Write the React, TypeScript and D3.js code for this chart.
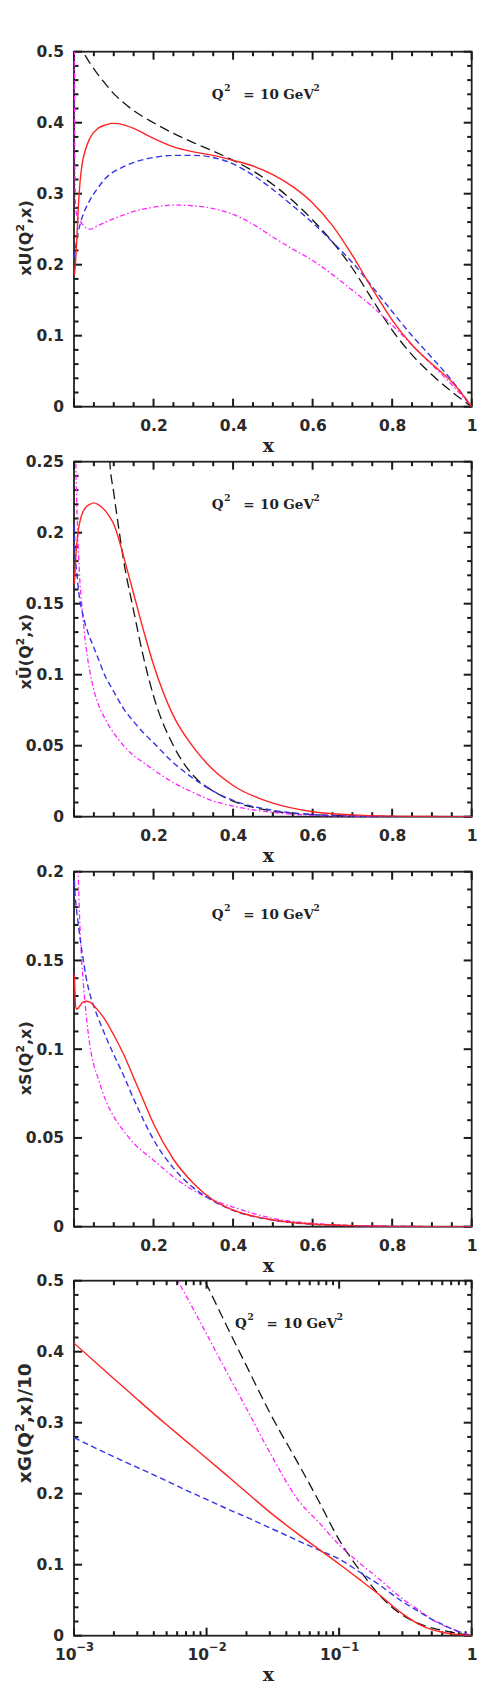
import { useEffect, useRef } from "react";
import * as d3 from "d3";

// ---- panel 1: xU(Q^2,x) ----
const xGridU = [0.001, 0.002, 0.004, 0.007, 0.01, 0.015, 0.02, 0.03, 0.04, 0.06, 0.08, 0.1, 0.125, 0.15, 0.2, 0.25, 0.3, 0.35, 0.4, 0.45, 0.5, 0.55, 0.6, 0.65, 0.7, 0.75, 0.8, 0.85, 0.9, 0.95, 1];
const uRed = [0.185, 0.19, 0.205, 0.235, 0.272, 0.315, 0.34, 0.364, 0.378, 0.392, 0.397, 0.399, 0.397, 0.392, 0.378, 0.366, 0.359, 0.354, 0.347, 0.339, 0.327, 0.31, 0.287, 0.255, 0.213, 0.166, 0.122, 0.087, 0.06, 0.035, 0];
const uBlue = [0.21, 0.215, 0.224, 0.235, 0.245, 0.256, 0.266, 0.28, 0.291, 0.308, 0.322, 0.331, 0.338, 0.344, 0.351, 0.354, 0.354, 0.351, 0.342, 0.326, 0.306, 0.283, 0.259, 0.232, 0.203, 0.169, 0.134, 0.1, 0.069, 0.037, 0];
const uBlack = [0.62, 0.6, 0.575, 0.55, 0.535, 0.515, 0.503, 0.493, 0.484, 0.468, 0.454, 0.441, 0.428, 0.417, 0.4, 0.385, 0.372, 0.36, 0.347, 0.332, 0.313, 0.29, 0.263, 0.232, 0.195, 0.151, 0.108, 0.073, 0.045, 0.021, 0];
const uMagenta = [0.6, 0.36, 0.28, 0.27, 0.266, 0.262, 0.258, 0.252, 0.25, 0.255, 0.26, 0.265, 0.27, 0.275, 0.281, 0.284, 0.283, 0.279, 0.271, 0.257, 0.239, 0.222, 0.206, 0.186, 0.164, 0.141, 0.115, 0.087, 0.059, 0.031, 0];
const yTicksU = [0, 0.1, 0.2, 0.3, 0.4, 0.5];
const yLabelsU = ["0", "0.1", "0.2", "0.3", "0.4", "0.5"];

// ---- panel 2: xUbar(Q^2,x) ----
const xGridUbar = [0.001, 0.002, 0.004, 0.007, 0.01, 0.015, 0.02, 0.03, 0.04, 0.05, 0.06, 0.08, 0.09, 0.1, 0.11, 0.125, 0.15, 0.175, 0.2, 0.25, 0.3, 0.35, 0.4, 0.5, 0.6, 0.7, 0.8, 0.9, 1];
const ubarRed = [0.164, 0.17, 0.18, 0.192, 0.2, 0.208, 0.213, 0.218, 0.22, 0.221, 0.22, 0.215, 0.211, 0.206, 0.198, 0.183, 0.157, 0.131, 0.107, 0.071, 0.049, 0.033, 0.022, 0.0095, 0.0035, 0.0013, 0.0004, 0.0001, 0];
const ubarBlue = [0.205, 0.19, 0.18, 0.172, 0.163, 0.152, 0.145, 0.134, 0.126, 0.119, 0.112, 0.098, 0.093, 0.088, 0.083, 0.076, 0.067, 0.059, 0.052, 0.038, 0.027, 0.018, 0.0115, 0.0045, 0.0015, 0.0005, 0.0001, 0, 0];
const ubarBlack = [null, null, null, null, null, null, null, null, 0.6, 0.5, 0.42, 0.31, 0.25, 0.228, 0.208, 0.18, 0.145, 0.112, 0.085, 0.05, 0.029, 0.018, 0.011, 0.004, 0.0015, 0.0005, 0.0001, 0, 0];
const ubarMagenta = [0.5, 0.36, 0.265, 0.22, 0.195, 0.165, 0.148, 0.12, 0.102, 0.089, 0.08, 0.068, 0.063, 0.059, 0.055, 0.05, 0.043, 0.038, 0.033, 0.024, 0.017, 0.011, 0.0075, 0.003, 0.001, 0.0003, 0.0001, 0, 0];
const yTicksUbar = [0, 0.05, 0.1, 0.15, 0.2, 0.25];
const yLabelsUbar = ["0", "0.05", "0.1", "0.15", "0.2", "0.25"];

// ---- panel 3: xS(Q^2,x) ----
const xGridS = [0.001, 0.002, 0.004, 0.007, 0.01, 0.015, 0.02, 0.025, 0.03, 0.04, 0.05, 0.06, 0.08, 0.1, 0.125, 0.15, 0.175, 0.2, 0.25, 0.3, 0.35, 0.4, 0.5, 0.6, 0.7, 0.8, 0.9, 1];
const sRed = [0.142, 0.135, 0.124, 0.1225, 0.123, 0.1245, 0.126, 0.1268, 0.127, 0.1265, 0.1245, 0.122, 0.116, 0.108, 0.097, 0.084, 0.071, 0.058, 0.038, 0.0245, 0.015, 0.0094, 0.0038, 0.0015, 0.0006, 0.0002, 0.00005, 0];
const sBlue = [0.195, 0.19, 0.184, 0.177, 0.172, 0.163, 0.155, 0.148, 0.141, 0.131, 0.124, 0.118, 0.107, 0.097, 0.085, 0.072, 0.06, 0.049, 0.033, 0.022, 0.0145, 0.0092, 0.0037, 0.0014, 0.0005, 0.0002, 0.00005, 0];
const sMagenta = [0.5, 0.4, 0.3, 0.24, 0.205, 0.169, 0.148, 0.133, 0.121, 0.102, 0.091, 0.084, 0.071, 0.062, 0.054, 0.047, 0.042, 0.0375, 0.028, 0.0205, 0.015, 0.011, 0.0047, 0.0019, 0.0007, 0.0002, 0.00005, 0];
const yTicksS = [0, 0.05, 0.1, 0.15, 0.2];
const yLabelsS = ["0", "0.05", "0.1", "0.15", "0.2"];

// ---- panel 4: xG(Q^2,x)/10, log x ----
const xGridG = [0.001, 0.002, 0.003, 0.005, 0.007, 0.01, 0.015, 0.02, 0.03, 0.05, 0.07, 0.1, 0.15, 0.2, 0.3, 0.4, 0.5, 0.6, 0.7, 0.8, 0.9, 1];
const gRed = [0.412, 0.362, 0.333, 0.297, 0.274, 0.25, 0.222, 0.202, 0.174, 0.142, 0.122, 0.101, 0.076, 0.058, 0.031, 0.016, 0.0085, 0.0048, 0.0028, 0.0015, 0.0006, 0];
const gBlue = [0.279, 0.252, 0.237, 0.218, 0.205, 0.192, 0.177, 0.167, 0.152, 0.133, 0.121, 0.108, 0.087, 0.072, 0.048, 0.034, 0.023, 0.016, 0.01, 0.0055, 0.002, 0];
const gBlack = [null, null, null, null, 0.555, 0.495, 0.427, 0.38, 0.314, 0.24, 0.19, 0.135, 0.087, 0.058, 0.029, 0.017, 0.011, 0.0075, 0.005, 0.003, 0.0013, 0];
const gMagenta = [null, null, 0.66, 0.53, 0.479, 0.425, 0.363, 0.32, 0.258, 0.189, 0.16, 0.128, 0.099, 0.08, 0.052, 0.036, 0.023, 0.015, 0.01, 0.006, 0.003, 0];
const yTicksG = [0, 0.1, 0.2, 0.3, 0.4, 0.5];
const yLabelsG = ["0", "0.1", "0.2", "0.3", "0.4", "0.5"];

const xTicksLin = [0.2, 0.4, 0.6, 0.8, 1];
const xLabelsLin = ["0.2", "0.4", "0.6", "0.8", "1"];
const xTicksLog = [0.001, 0.01, 0.1, 1];
const xLabelsLog = [["10", "\u22123"], ["10", "\u22122"], ["10", "\u22121"], ["1", ""]];

const WIDTH = 478;
const HEIGHT = 1686;
const LEFT = 74;
const RIGHT = 471.7;
const PANEL_H = 355;
const INK = "#222";
const MAJOR = 8;
const MINOR = 4.5;
const TICK_W = 2;

const lineStyles = {
    black: { stroke: "#151515", dash: "10,5", width: 1.3 },
    magenta: { stroke: "#ff22ff", dash: "5,2.5,1.5,2.5", width: 1.3 },
    blue: { stroke: "#3535e8", dash: "6,3.5", width: 1.4 },
    red: { stroke: "#ff2424", dash: null, width: 1.4 },
};

const panels = [
    { top: 51.7, log: false, xs: xGridU, yMax: 0.5, yTicks: yTicksU, yLabels: yLabelsU, yMinor: 0.02,
      series: { black: uBlack, magenta: uMagenta, blue: uBlue, red: uRed },
      label: ["xU(Q", ",x)"], labelY: 186.3, labelSize: 16, qx: 211.7 },
    { top: 461.7, log: false, xs: xGridUbar, yMax: 0.25, yTicks: yTicksUbar, yLabels: yLabelsUbar, yMinor: 0.01,
      series: { black: ubarBlack, magenta: ubarMagenta, blue: ubarBlue, red: ubarRed },
      label: ["x\u016A(Q", ",x)"], labelY: 190, labelSize: 16, qx: 211.7 },
    { top: 871.7, log: false, xs: xGridS, yMax: 0.2, yTicks: yTicksS, yLabels: yLabelsS, yMinor: 0.01,
      series: { magenta: sMagenta, blue: sBlue, red: sRed },
      label: ["xS(Q", ",x)"], labelY: 186.6, labelSize: 16, qx: 211.7 },
    { top: 1280.7, log: true, xs: xGridG, yMax: 0.5, yTicks: yTicksG, yLabels: yLabelsG, yMinor: 0.02,
      series: { black: gBlack, magenta: gMagenta, blue: gBlue, red: gRed },
      label: ["xG(Q", ",x)/10"], labelY: 142.6, labelSize: 18.5, qx: 235 },
];

// offsets of the pieces of the "Q^2 = 10 GeV^2" note
const qPieces = [
    { t: "Q", dx: 0, sup: false },
    { t: "2", dx: 12.6, sup: true },
    { t: "=", dx: 31.6, sup: false },
    { t: "10", dx: 48.3, sup: false },
    { t: "GeV", dx: 71.6, sup: false },
    { t: "2", dx: 101.8, sup: true },
];

function App() {
    const svgRef = useRef(null);

    useEffect(() => {
        const svg = d3.select(svgRef.current);
        svg.selectAll("*").remove();

        panels.forEach((p, i) => {
            const bottom = p.top + PANEL_H;
            const x = p.log
                ? d3.scaleLog().domain([0.001, 1]).range([LEFT, RIGHT])
                : d3.scaleLinear().domain([0, 1]).range([LEFT, RIGHT]);
            const y = d3.scaleLinear().domain([0, p.yMax]).range([bottom, p.top]);
            const g = svg.append("g");

            // frame
            g.append("rect")
                .attr("x", LEFT)
                .attr("y", p.top)
                .attr("width", RIGHT - LEFT)
                .attr("height", PANEL_H)
                .style("fill", "none")
                .style("stroke", INK)
                .style("stroke-width", 1.8);

            // tick values
            let xMinor;
            if (p.log) {
                xMinor = [];
                [0.001, 0.01, 0.1].forEach((dec) => {
                    for (let k = 2; k <= 9; k++) xMinor.push(dec * k);
                });
            } else {
                xMinor = d3.range(1, 20).map((k) => k * 0.05).filter((v, k) => (k + 1) % 4 !== 0);
            }
            const nMinor = Math.round(p.yMax / p.yMinor);
            const majorStep = p.yTicks[1];
            const yMinor = d3
                .range(1, nMinor)
                .map((k) => k * p.yMinor)
                .filter((v) => Math.abs(v / majorStep - Math.round(v / majorStep)) > 1e-6);
            const xMajorTicks = p.log ? xTicksLog : [0, ...xTicksLin];

            // tick marks on all four sides, pointing inward
            const xTickSet = [
                ...xMajorTicks.map((v) => ({ v, len: MAJOR })),
                ...xMinor.map((v) => ({ v, len: MINOR })),
            ];
            const yTickSet = [
                ...p.yTicks.map((v) => ({ v, len: MAJOR })),
                ...yMinor.map((v) => ({ v, len: MINOR })),
            ];
            const tickRects = [];
            xTickSet.forEach((d) => {
                tickRects.push({ x: x(d.v) - TICK_W / 2, y: bottom - d.len, w: TICK_W, h: d.len });
                tickRects.push({ x: x(d.v) - TICK_W / 2, y: p.top, w: TICK_W, h: d.len });
            });
            yTickSet.forEach((d) => {
                tickRects.push({ x: LEFT, y: y(d.v) - TICK_W / 2, w: d.len, h: TICK_W });
                tickRects.push({ x: RIGHT - d.len, y: y(d.v) - TICK_W / 2, w: d.len, h: TICK_W });
            });
            g.append("g")
                .selectAll("rect")
                .data(tickRects)
                .join("rect")
                .attr("x", (d) => d.x)
                .attr("y", (d) => d.y)
                .attr("width", (d) => d.w)
                .attr("height", (d) => d.h)
                .style("fill", "#1a1a1a");

            // curves, clipped to the frame
            const clipId = "clip" + i;
            g.append("clipPath")
                .attr("id", clipId)
                .append("rect")
                .attr("x", LEFT)
                .attr("y", p.top)
                .attr("width", RIGHT - LEFT)
                .attr("height", PANEL_H);
            const curves = g.append("g").attr("clip-path", `url(#${clipId})`);

            ["black", "magenta", "blue", "red"].forEach((key) => {
                const vals = p.series[key];
                if (!vals) return;
                const pts = p.xs.map((xv, j) => [xv, vals[j]]).filter((d) => d[1] != null);
                const st = lineStyles[key];
                const ln = d3
                    .line()
                    .x((d) => x(d[0]))
                    .y((d) => y(d[1]))
                    .curve(d3.curveMonotoneX);
                curves
                    .append("path")
                    .attr("d", ln(pts))
                    .attr("fill", "none")
                    .attr("stroke", st.stroke)
                    .attr("stroke-width", st.width)
                    .attr("stroke-dasharray", st.dash);
            });

            const style = (sel) => {
                sel.select(".domain").remove();
                sel.attr("font-family", "DejaVu Sans").attr("font-size", 15.5).attr("font-weight", "bold");
                sel.selectAll(".tick text").attr("fill", "#2a2a2a");
            };

            // tick labels
            const bottomAxis = g
                .append("g")
                .attr("transform", `translate(0,${bottom})`)
                .call(
                    d3
                        .axisBottom(x)
                        .tickValues(p.log ? xTicksLog : xTicksLin)
                        .tickSize(0)
                        .tickPadding(13.5)
                        .tickFormat((d, k) => (p.log ? "" : xLabelsLin[k]))
                )
                .call(style);
            if (p.log) {
                bottomAxis.selectAll(".tick text").each(function (d, k) {
                    const t = d3.select(this);
                    const lab = xLabelsLog[k];
                    t.append("tspan").text(lab[0]);
                    if (lab[1]) t.append("tspan").attr("font-size", 11.5).attr("dy", -9).text(lab[1]);
                });
            }
            g.append("g")
                .attr("transform", `translate(${LEFT},0)`)
                .call(
                    d3
                        .axisLeft(y)
                        .tickValues(p.yTicks)
                        .tickSize(0)
                        .tickPadding(10)
                        .tickFormat((d, k) => p.yLabels[k])
                )
                .call(style);

            // x label
            g.append("text")
                .attr("x", 268.5)
                .attr("y", bottom + 45)
                .attr("text-anchor", "middle")
                .attr("font-family", "DejaVu Serif")
                .attr("font-weight", "bold")
                .attr("font-size", 19)
                .attr("fill", INK)
                .text("x");

            // y label
            const yl = g
                .append("text")
                .attr("transform", `translate(31,${p.top + p.labelY}) rotate(-90)`)
                .attr("text-anchor", "middle")
                .attr("font-family", "DejaVu Sans")
                .attr("font-weight", "bold")
                .attr("font-size", p.labelSize)
                .attr("fill", "#2a2a2a");
            yl.append("tspan").text(p.label[0]);
            yl.append("tspan").attr("font-size", p.labelSize * 0.68).attr("dy", -7).text("2");
            yl.append("tspan").attr("dy", 7).text(p.label[1]);

            // Q^2 annotation
            const q = g
                .append("text")
                .attr("y", p.top + 47)
                .attr("font-family", "DejaVu Serif")
                .attr("font-weight", "bold")
                .attr("font-size", 13.5)
                .attr("fill", INK);
            qPieces.forEach((piece) => {
                q.append("tspan")
                    .attr("x", p.qx + piece.dx)
                    .attr("y", piece.sup ? p.top + 39 : p.top + 47)
                    .attr("font-size", piece.sup ? 9 : 13.5)
                    .text(piece.t);
            });
        });
    }, []);

    return (
        <svg
            ref={svgRef}
            width={WIDTH}
            height={HEIGHT}
            style={{ position: "absolute", left: 0, top: 0, background: "#fff" }}
        ></svg>
    );
}

export default App;
